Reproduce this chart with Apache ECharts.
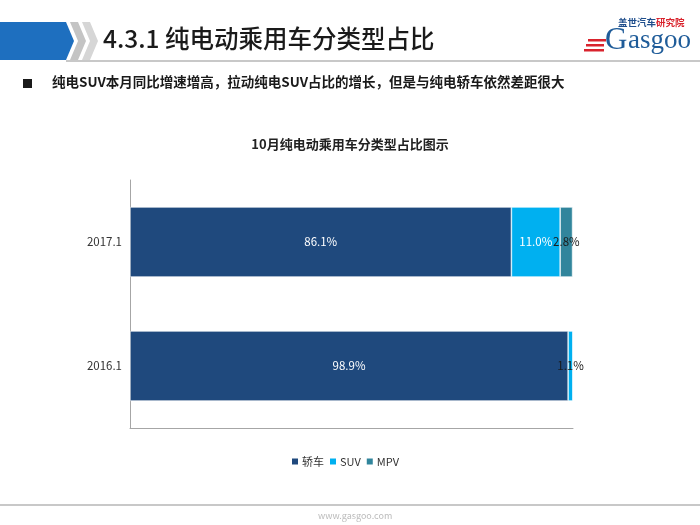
<!DOCTYPE html>
<html>
<head>
<meta charset="utf-8">
<script src="https://cdn.jsdelivr.net/npm/echarts@6/dist/echarts.min.js"></script>
<style>
html,body{margin:0;padding:0;background:#fff;}
#c{width:700px;height:525px;}
</style>
</head>
<body>
<div id="c"></div>
<script>
var categories = ['2016.1', '2017.1'];
var sedan = [98.9, 86.1];
var suv = [1.1, 11.0];
var mpv = [0, 2.8];
var seriesNames = ['轿车', 'SUV', 'MPV'];
var colors = ['#1F497D', '#00B0F0', '#31859C'];
var labelColors = [['#ffffff', '#ffffff'], ['#1a1a1a', '#ffffff'], ['#1a1a1a', '#1a1a1a']];

var FONT = '"Noto Sans CJK SC", "Noto Sans", sans-serif';

function buildData(vals, si) {
  return vals.map(function (v, i) {
    return {
      value: v,
      label: { show: v > 0, color: labelColors[si][i] }
    };
  });
}

var chart = echarts.init(document.getElementById('c'));
var allVals = [sedan, suv, mpv];
var series = seriesNames.map(function (name, si) {
  return {
    name: name,
    type: 'bar',
    stack: 'total',
    barWidth: 70,
    data: buildData(allVals[si], si),
    itemStyle: { color: colors[si], borderColor: '#ffffff', borderWidth: 0.6 },
    label: {
      show: true,
      position: 'inside',
      fontSize: 11.5,
      fontFamily: FONT,
      formatter: function (p) { return p.value.toFixed(1) + '%'; }
    }
  };
});

chart.setOption({
  backgroundColor: '#ffffff',
  animation: false,
  color: colors,
  title: {
    text: '10月纯电动乘用车分类型占比图示',
    left: 'center',
    top: 133,
    textStyle: { fontSize: 13, fontWeight: 'bold', color: '#222', fontFamily: FONT }
  },
  legend: {
    data: seriesNames,
    left: 285,
    top: 451,
    itemWidth: 8,
    itemHeight: 8,
    itemGap: 4,
    icon: 'rect',
    textStyle: { fontSize: 11, color: '#333', fontFamily: FONT, padding: [0, 0, 0, -2] }
  },
  grid: { left: 130, right: 127, top: 180, bottom: 97 },
  xAxis: {
    type: 'value',
    min: 0,
    max: 100,
    axisLine: { show: true, lineStyle: { color: '#A6A6A6' } },
    axisTick: { show: false },
    axisLabel: { show: false },
    splitLine: { show: false }
  },
  yAxis: {
    type: 'category',
    data: categories,
    axisLine: { show: true, lineStyle: { color: '#A6A6A6' } },
    axisTick: { show: false },
    axisLabel: { fontSize: 11.5, color: '#333', fontFamily: FONT, margin: 8 }
  },
  series: series,
  graphic: [
    // header band
    { type: 'polygon', shape: { points: [[0, 22], [66, 22], [74, 41], [66, 60], [0, 60]] }, style: { fill: '#1E6FBF' } },
    { type: 'polygon', shape: { points: [[70, 22], [78, 22], [86, 41], [78, 60], [70, 60], [78, 41]] }, style: { fill: '#C4C4C4' } },
    { type: 'polygon', shape: { points: [[82, 22], [90, 22], [98, 41], [90, 60], [82, 60], [90, 41]] }, style: { fill: '#D6D6D6' } },
    { type: 'line', shape: { x1: 66, y1: 61, x2: 700, y2: 61 }, style: { stroke: '#C8C8C8', lineWidth: 2 } },
    { type: 'text', left: 103, top: 26, style: { text: '4.3.1 纯电动乘用车分类型占比', font: '500 24.5px ' + FONT, fill: '#1a1a1a' } },
    // logo
    { type: 'text', left: 618, top: 18, style: { text: '盖世汽车', font: 'bold 9.5px ' + FONT, fill: '#1F4E8C' } },
    { type: 'text', left: 656, top: 18, style: { text: '研究院', font: 'bold 9.5px ' + FONT, fill: '#D9232D' } },
    { type: 'text', left: 628, top: 27, style: { text: 'asgoo', font: '27px "Liberation Serif", serif', fill: '#1F5C99' } },
    { type: 'text', left: 605, top: 25, style: { text: 'G', font: '31px "Liberation Serif", serif', fill: '#1F5C99' } },
    { type: 'rect', shape: { x: 588, y: 39, width: 18, height: 2.5 }, style: { fill: '#D9232D' } },
    { type: 'rect', shape: { x: 586, y: 44, width: 18, height: 2.5 }, style: { fill: '#D9232D' } },
    { type: 'rect', shape: { x: 584, y: 49, width: 20, height: 2.5 }, style: { fill: '#D9232D' } },
    // bullet
    { type: 'rect', shape: { x: 23, y: 79, width: 9, height: 9 }, style: { fill: '#1a1a1a' } },
    { type: 'text', left: 52, top: 75, style: { text: '纯电SUV本月同比增速增高，拉动纯电SUV占比的增长，但是与纯电轿车依然差距很大', font: 'bold 13.5px ' + FONT, fill: '#1a1a1a' } },
    // footer
    { type: 'line', shape: { x1: 0, y1: 505, x2: 700, y2: 505 }, style: { stroke: '#C8C8C8', lineWidth: 2 } },
    { type: 'text', left: 318, top: 511, style: { text: 'www.gasgoo.com', font: '9px ' + FONT, fill: '#BBBBBB' } }
  ]
});
</script>
</body>
</html>
